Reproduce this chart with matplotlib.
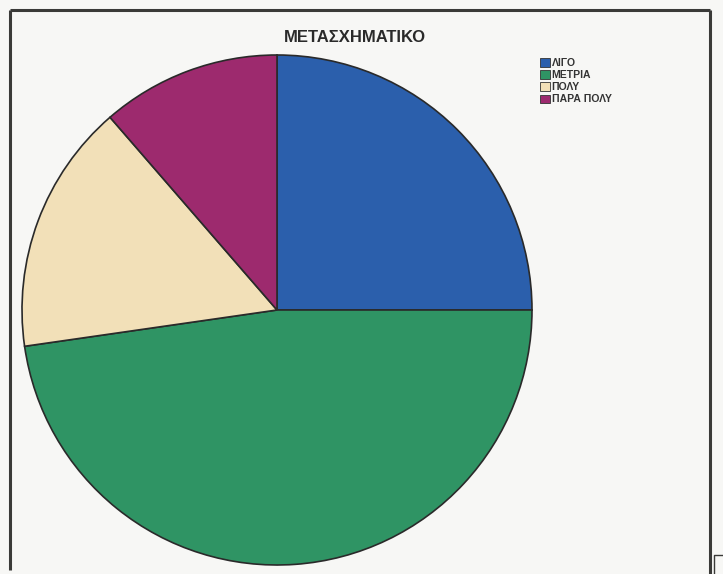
import matplotlib.pyplot as plt
from matplotlib.patches import Patch

labels = ['ΛΙΓΟ', 'ΜΕΤΡΙΑ', 'ΠΟΛΥ', 'ΠΑΡΑ ΠΟΛΥ']
counts = [11, 21, 7, 5]
colors = ['#2b5fac', '#2f9464', '#f2e0b8', '#9d2a6e']
title = 'ΜΕΤΑΣΧΗΜΑΤΙΚΟ'

W, H = 723, 574
fig = plt.figure(figsize=(W / 100, H / 100), dpi=100)
fig.patch.set_facecolor('#f7f7f5')
ax = fig.add_axes([0, 0, 1, 1])

ax.pie(counts, colors=colors, startangle=90, counterclock=False,
       center=(277, H - 310), radius=255, frame=True,
       wedgeprops=dict(edgecolor='#2a2a2a', linewidth=1.2))
ax.set_xlim(0, W)
ax.set_ylim(0, H)
ax.set_aspect('equal')
ax.axis('off')

ax.text(355, H - 37, title, ha='center', va='center', fontsize=12,
        fontweight='bold', family='Liberation Sans', color='#2a2a2a')

handles = [Patch(facecolor=c, edgecolor='#333333', linewidth=0.6) for c in colors]
leg = ax.legend(handles, labels, loc='upper left',
                bbox_to_anchor=(535 / W, 1 - 53 / H), frameon=False,
                prop=dict(family='Liberation Sans', size=7.5, weight='bold'),
                handlelength=0.9, handleheight=0.9, labelspacing=0.2,
                handletextpad=0.2, borderpad=0)
for t in leg.get_texts():
    t.set_color('#333333')

# frame around the chart
fc = '#3a3a38'
ax.plot([10, 10], [H - 570, H - 10], color=fc, lw=2.2, solid_capstyle='butt')
ax.plot([10, 710], [H - 10, H - 10], color=fc, lw=2.2, solid_capstyle='butt')
ax.plot([710, 710], [0, H - 10], color=fc, lw=2.2, solid_capstyle='butt')
ax.plot([714, 714, 722], [0, H - 555, H - 555], color=fc, lw=1.0)

fig.savefig('out.png', dpi=100, facecolor=fig.get_facecolor())
